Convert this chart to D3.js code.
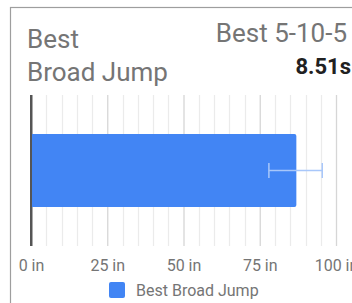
<!DOCTYPE html>
<html>
<head>
<meta charset="utf-8">
<script src="https://cdn.jsdelivr.net/npm/d3@7"></script>
<style>
  html, body { margin: 0; padding: 0; background: #fff; }
  svg { display: block; font-family: Roboto, "Noto Sans", sans-serif; }
</style>
</head>
<body>
<svg id="chart" width="352" height="303"></svg>
<script>
const categories = ["Best Broad Jump"];
const values = [87];
const errLow = [78];
const errHigh = [95.5];
const xTicks = [0, 25, 50, 75, 100];
const xTickLabels = ["0 in", "25 in", "50 in", "75 in", "100 in"];
const minorStep = 5;
const titleLines = ["Best", "Broad Jump"];
const statLabel = "Best 5-10-5";
const statValue = "8.51s";
const legendLabel = "Best Broad Jump";

const svg = d3.select("#chart");
const W = 352, H = 303;
svg.append("rect").attr("width", W).attr("height", H).attr("fill", "#fff");

// card border
svg.append("rect")
  .attr("x", 10.5).attr("y", 7.5).attr("width", 500).attr("height", 500)
  .attr("fill", "none").attr("stroke", "#9e9e9e").attr("stroke-width", 1.2);

// titles
const title = svg.append("text").attr("fill", "#757575").attr("font-size", 26);
titleLines.forEach((t, i) => {
  title.append("tspan").attr("x", 27).attr("y", 48 + i * 33).text(t);
});
svg.append("text").attr("x", 347).attr("y", 42).attr("text-anchor", "end")
  .attr("fill", "#757575").attr("font-size", 26).text(statLabel);
svg.append("text").attr("x", 351).attr("y", 74).attr("text-anchor", "end")
  .attr("fill", "#212121").attr("font-size", 22).attr("font-weight", "bold").text(statValue);

// scales
const x = d3.scaleLinear().domain([0, 100]).range([31, 336]);
const y = d3.scaleBand().domain(categories).range([95, 246]).padding(0.348);
const plotTop = 95, plotBottom = 246;

// minor gridlines
const minor = d3.range(0, 100 + 0.001, minorStep).filter(v => !xTicks.includes(v));
svg.append("g").selectAll("line").data(minor).join("line")
  .attr("x1", d => Math.round(x(d)) + 0.5).attr("x2", d => Math.round(x(d)) + 0.5)
  .attr("y1", plotTop).attr("y2", plotBottom)
  .attr("stroke", "#ebebeb").attr("stroke-width", 1.2);

// major gridlines / axis
const axis = d3.axisBottom(x).tickValues(xTicks)
  .tickFormat((d, i) => xTickLabels[i]).tickSize(-(plotBottom - plotTop)).tickPadding(0);
const gAxis = svg.append("g").attr("transform", `translate(0,${plotBottom})`).call(axis);
gAxis.select(".domain").remove();
gAxis.selectAll(".tick line").attr("stroke", d => d === 0 ? "#555" : "#d6d6d6")
  .attr("stroke-width", d => d === 0 ? 2 : 1.3);
gAxis.selectAll(".tick text").attr("fill", "#757575").attr("font-size", 16)
  .attr("font-family", "Roboto, 'Noto Sans', sans-serif")
  .attr("dy", null).attr("y", 25);

// bars with rounded right corners
const r = 2;
svg.append("g").selectAll("path").data(categories).join("path")
  .attr("d", (c, i) => {
    const x0 = x(0), x1 = x(values[i]), y0 = y(c), y1 = y(c) + y.bandwidth();
    return `M${x0},${y0}H${x1 - r}Q${x1},${y0} ${x1},${y0 + r}V${y1 - r}Q${x1},${y1} ${x1 - r},${y1}H${x0}Z`;
  })
  .attr("fill", "#4285f4");
// keep zero line above bar
svg.append("line").attr("x1", x(0)).attr("x2", x(0)).attr("y1", plotTop).attr("y2", plotBottom)
  .attr("stroke", "#555").attr("stroke-width", 2);

// error bars
const eg = svg.append("g").attr("stroke", "#a8c7fa").attr("stroke-width", 1.5);
categories.forEach((c, i) => {
  const cy = y(c) + y.bandwidth() / 2;
  eg.append("line").attr("x1", x(errLow[i])).attr("x2", x(errHigh[i])).attr("y1", cy).attr("y2", cy);
  eg.append("line").attr("x1", x(errLow[i])).attr("x2", x(errLow[i])).attr("y1", cy - 7.5).attr("y2", cy + 7.5);
  eg.append("line").attr("x1", x(errHigh[i])).attr("x2", x(errHigh[i])).attr("y1", cy - 7.5).attr("y2", cy + 7.5);
});

// legend
svg.append("rect").attr("x", 109).attr("y", 282).attr("width", 16).attr("height", 16)
  .attr("rx", 2).attr("fill", "#4285f4");
svg.append("text").attr("x", 136).attr("y", 296).attr("fill", "#757575")
  .attr("font-size", 16).text(legendLabel);
</script>
</body>
</html>
